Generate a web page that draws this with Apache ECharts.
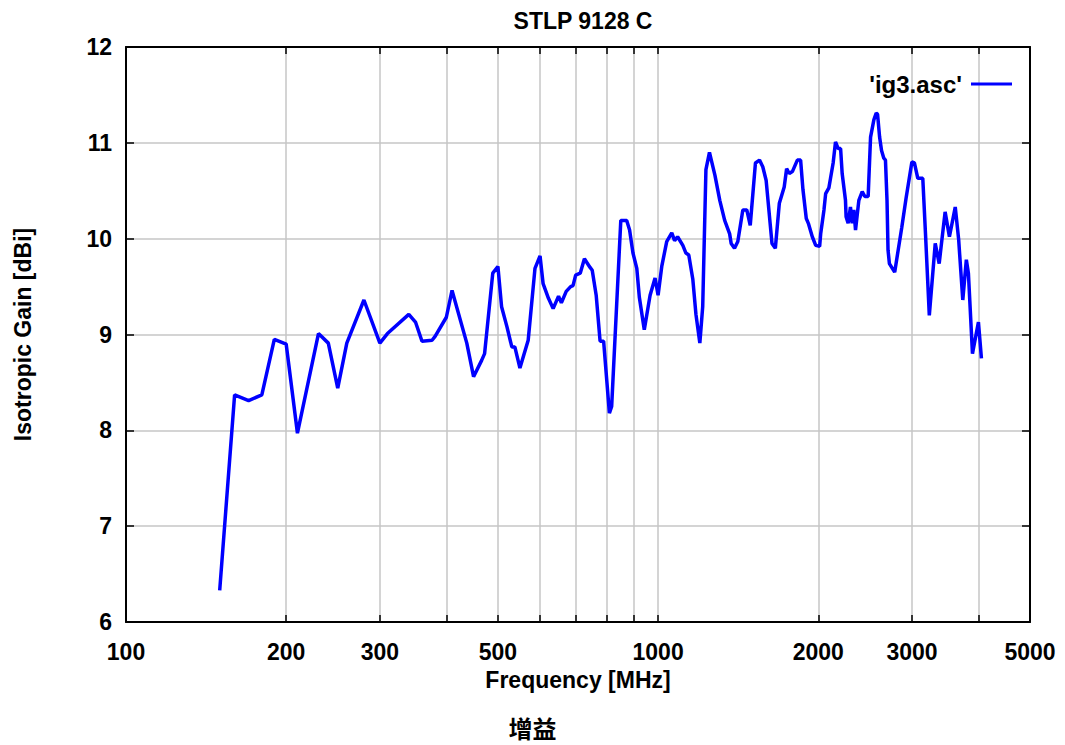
<!DOCTYPE html>
<html>
<head>
<meta charset="utf-8">
<style>
html,body{margin:0;padding:0;background:#fff;}
#chart{width:1065px;height:745px;}
</style>
<script src="https://cdn.jsdelivr.net/npm/echarts@6/dist/echarts.min.js"></script>
</head>
<body>
<div id="chart"></div>
<script>
// Frequency [MHz]
var freq = [150,160,170,180,190,200,210,230,240,250,260,280,300,310,340,350,360,376,381,400,
  410,437,450,466,472,489,500,508,520,531,538,550,570,587,600,608,622,635,650,658,
  672,685,692,700,714,727,745,752,765,778,790,810,818,851,873,884,897,912,922,942,
  966,987,1000,1016,1038,1061,1074,1088,1113,1128,1142,1162,1178,1198,1213,1230,1249,1279,1306,1334,
  1363,1372,1392,1412,1443,1468,1490,1524,1551,1573,1596,1637,1661,1690,1726,1744,1764,1788,1827,1853,
  1872,1899,1916,1949,1978,2012,2021,2050,2065,2094,2109,2133,2155,2180,2203,2218,2250,2256,2276,2299,
  2316,2333,2350,2384,2419,2447,2482,2489,2508,2544,2570,2585,2608,2630,2656,2675,2693,2705,2721,2784,
  2871,2924,2999,3032,3077,3144,3181,3234,3318,3375,3463,3528,3618,3672,3738,3796,3830,3898,4000,4052];
// Isotropic Gain [dBi]
var gain = [6.33,8.37,8.31,8.37,8.95,8.90,7.97,9.01,8.91,8.44,8.91,9.36,8.91,9.01,9.21,9.13,8.93,8.94,8.98,9.18,
  9.46,8.91,8.56,8.73,8.80,9.64,9.71,9.29,9.08,8.87,8.87,8.65,8.94,9.69,9.82,9.53,9.38,9.27,9.40,9.33,
  9.45,9.50,9.51,9.62,9.64,9.79,9.70,9.67,9.41,8.93,8.93,8.18,8.25,10.19,10.19,10.09,9.85,9.69,9.39,9.05,
  9.41,9.59,9.41,9.71,9.97,10.06,9.98,10.02,9.93,9.85,9.83,9.58,9.21,8.91,9.29,10.72,10.90,10.66,10.40,10.19,
  10.05,9.95,9.90,9.97,10.30,10.30,10.14,10.79,10.82,10.75,10.61,9.95,9.90,10.37,10.54,10.73,10.68,10.70,10.82,10.82,
  10.51,10.21,10.16,10.02,9.93,9.92,10.05,10.30,10.47,10.53,10.63,10.79,11.01,10.94,10.94,10.68,10.40,10.23,10.16,10.33,
  10.16,10.30,10.09,10.40,10.49,10.44,10.44,10.61,11.06,11.24,11.31,11.30,11.06,10.92,10.84,10.82,10.40,9.88,9.74,9.65,
  10.12,10.42,10.80,10.79,10.63,10.63,10.05,9.20,9.95,9.74,10.28,10.02,10.33,9.99,9.36,9.78,9.64,8.80,9.13,8.75];

var xLabelValues = [100,200,300,500,1000,2000,3000,5000];
var xGridValues = [100,200,300,400,500,600,700,800,900,1000,2000,3000,4000,5000];
var yTicks = [6,7,8,9,10,11,12];

var titleText = 'STLP 9128 C';
var captionText = '增益';
var seriesName = "'ig3.asc'";
var xName = 'Frequency [MHz]';
var yName = 'Isotropic Gain [dBi]';

var FONT = '"Liberation Sans", Arial, Helvetica, sans-serif';
var points = freq.map(function (f, i) { return [f, gain[i]]; });

var chart = echarts.init(document.getElementById('chart'), null, {renderer: 'svg'});

var baseX = {
  type: 'log', logBase: 10, min: 100, max: 5000,
  axisLine: {show: true, lineStyle: {color: '#000', width: 2}},
  axisTick: {show: true, inside: true, length: 7, customValues: xGridValues, lineStyle: {color: '#000', width: 1.5}},
  minorTick: {show: false}
};

chart.setOption({
  backgroundColor: '#fff',
  animation: false,
  title: [
    {text: titleText, left: 578, top: 4, textAlign: 'center',
     textStyle: {fontFamily: FONT, fontSize: 23, fontWeight: 'bold', color: '#000'}},
    {text: captionText, left: 'center', top: 714, padding: 0,
     textStyle: {fontFamily: '"Noto Sans CJK SC", sans-serif', fontSize: 24, lineHeight: 26, fontWeight: 'bold', color: '#000'}}
  ],
  legend: {
    show: true, right: 48, top: 67, align: 'right',
    itemWidth: 41, itemHeight: 3, icon: 'rect', itemGap: 10,
    textStyle: {fontFamily: FONT, fontSize: 24, fontWeight: 'bold', color: '#000', padding: [0, 4, 0, 0]},
    data: [seriesName]
  },
  grid: {left: 126, right: 35, top: 47, bottom: 123, containLabel: false},
  xAxis: [
    Object.assign({}, baseX, {
      position: 'bottom',
      name: xName, nameLocation: 'middle', nameGap: 46,
      nameTextStyle: {fontFamily: FONT, fontSize: 23, fontWeight: 'bold', color: '#000'},
      axisLabel: {show: true, customValues: xLabelValues, margin: 18,
        formatter: function (v) { return String(Math.round(v)); },
        fontFamily: FONT, fontSize: 23, fontWeight: 'bold', color: '#000'},
      splitLine: {show: true, lineStyle: {color: '#c6c6c6', width: 1.5}},
      minorSplitLine: {show: false}
    }),
    Object.assign({}, baseX, {
      position: 'top',
      axisLabel: {show: false},
      splitLine: {show: false}
    })
  ],
  yAxis: [
    {
      type: 'value', min: 6, max: 12, interval: 1, position: 'left',
      name: yName, nameLocation: 'middle', nameGap: 92,
      nameTextStyle: {fontFamily: FONT, fontSize: 23, fontWeight: 'bold', color: '#000'},
      axisLine: {show: true, lineStyle: {color: '#000', width: 2}},
      axisTick: {show: true, inside: true, length: 8, lineStyle: {color: '#000', width: 1.5}},
      axisLabel: {show: true, margin: 14, fontFamily: FONT, fontSize: 23, fontWeight: 'bold', color: '#000'},
      splitLine: {show: true, lineStyle: {color: '#c6c6c6', width: 1.5}}
    },
    {
      type: 'value', min: 6, max: 12, interval: 1, position: 'right',
      axisLine: {show: true, lineStyle: {color: '#000', width: 2}},
      axisTick: {show: true, inside: true, length: 8, lineStyle: {color: '#000', width: 1.5}},
      axisLabel: {show: false},
      splitLine: {show: false}
    }
  ],
  series: [{
    name: seriesName, type: 'line', xAxisIndex: 0, yAxisIndex: 0,
    data: points, symbol: 'none', showSymbol: false, smooth: false,
    lineStyle: {color: '#0000ff', width: 3.5},
    itemStyle: {color: '#0000ff'},
    z: 5
  }]
});
</script>
</body>
</html>
